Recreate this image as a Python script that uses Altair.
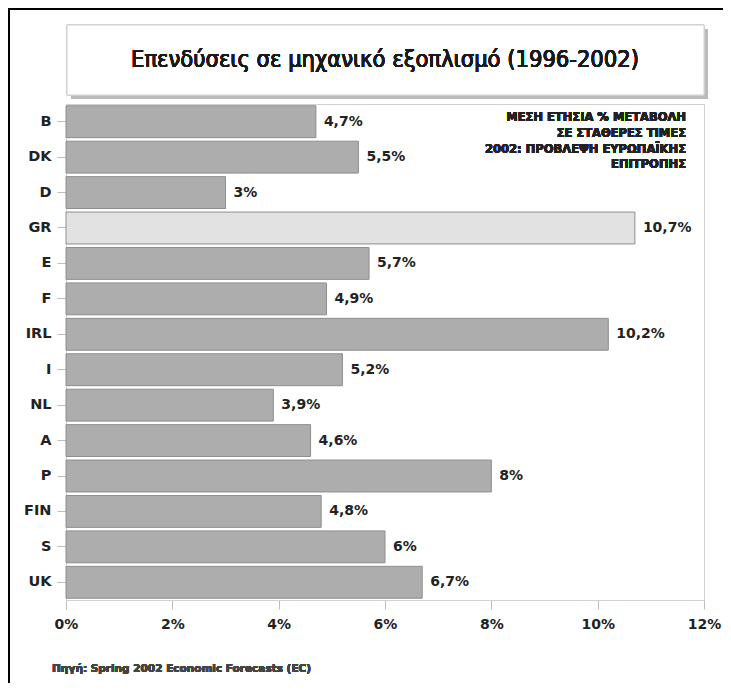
import altair as alt
import pandas as pd

countries = ["B", "DK", "D", "GR", "E", "F", "IRL", "I", "NL", "A", "P", "FIN", "S", "UK"]
values = [4.7, 5.5, 3.0, 10.7, 5.7, 4.9, 10.2, 5.2, 3.9, 4.6, 8.0, 4.8, 6.0, 6.7]
labels = ["4,7%", "5,5%", "3%", "10,7%", "5,7%", "4,9%", "10,2%", "5,2%", "3,9%", "4,6%", "8%", "4,8%", "6%", "6,7%"]
highlight = ["no", "no", "no", "yes", "no", "no", "no", "no", "no", "no", "no", "no", "no", "no"]
x_ticks = [0, 2, 4, 6, 8, 10, 12]

title_text = "Επενδύσεις σε μηχανικό εξοπλισμό (1996-2002)"
note_lines = ["ΜΕΣΗ ΕΤΗΣΙΑ % ΜΕΤΑΒΟΛΗ", "ΣΕ ΣΤΑΘΕΡΕΣ ΤΙΜΕΣ", "2002: ΠΡΟΒΛΕΨΗ ΕΥΡΩΠΑΪΚΗΣ", "ΕΠΙΤΡΟΠΗΣ"]
source_text = "Πηγή: Spring 2002 Economic Forecasts (EC)"

df = pd.DataFrame({"country": countries, "value": values, "label": labels, "hl": highlight})

W, H = 638, 496
BOLD = "DejaVu Sans"
COND = "'DejaVu Sans Condensed', 'Liberation Sans', sans-serif"

x_enc = alt.X("value:Q", scale=alt.Scale(domain=[0, 12], nice=False),
              axis=alt.Axis(values=x_ticks, labelExpr="datum.value + '%'", title=None,
                            grid=False, domainColor="#d2d2d2", tickColor="#bdbdbd", tickSize=9,
                            labelFlush=False, labelOverlap=False,
                            labelFont=BOLD, labelFontWeight="bold", labelFontSize=14,
                            labelColor="#222", labelPadding=8))
y_enc = alt.Y("country:N", sort=countries,
              scale=alt.Scale(paddingInner=0.1, paddingOuter=0.05),
              axis=alt.Axis(title=None, domain=False, tickColor="#bdbdbd", tickSize=9,
                            labelFont=BOLD, labelFontWeight="bold", labelFontSize=14.5,
                            labelColor="#222", labelPadding=6))

bars = alt.Chart(df).mark_bar(stroke="#8e8e8e", strokeWidth=1).encode(
    x=x_enc, y=y_enc,
    color=alt.Color("hl:N", scale=alt.Scale(domain=["no", "yes"], range=["#adadad", "#e2e2e2"]), legend=None),
)

texts = alt.Chart(df).mark_text(align="left", baseline="middle", dx=8, font=BOLD,
                                fontWeight="bold", fontSize=14, color="#222").encode(
    x="value:Q", y=alt.Y("country:N", sort=countries), text="label:N")

# decorative title box with shadow
shadow = alt.Chart(df).mark_rect(color="#bbbbbb").encode(
    x=alt.value(5), x2=alt.value(642), y=alt.value(-75), y2=alt.value(-5))
box = alt.Chart(df).mark_rect(color="white", stroke="#d0d0d0", strokeWidth=1).encode(
    x=alt.value(1), x2=alt.value(638), y=alt.value(-79), y2=alt.value(-9))
title = alt.Chart(df).mark_text(text=title_text, font=COND, fontSize=23.5,
                                color="#1a1a1a", align="center", baseline="middle").encode(
    x=alt.value(319), y=alt.value(-44))

note = alt.Chart(df).mark_text(text=note_lines, font=BOLD, fontWeight="bold", fontSize=11.5,
                               color="#222", align="right", baseline="top", lineHeight=15.8).encode(
    x=alt.value(620), y=alt.value(8))

source = alt.Chart(df).mark_text(text=source_text, font=BOLD, fontWeight="bold", fontSize=10.5,
                                 color="#444", align="left", baseline="middle").encode(
    x=alt.value(-14), y=alt.value(565))

border_left = alt.Chart(df).mark_rule(color="black", strokeWidth=2).encode(
    x=alt.value(-57), y=alt.value(-96), y2=alt.value(580))
border_top = alt.Chart(df).mark_rule(color="black", strokeWidth=2).encode(
    x=alt.value(-58), x2=alt.value(660), y=alt.value(-95))

chart = alt.layer(bars, texts, shadow, box, title, note, source,
                  border_left, border_top).properties(
    width=W, height=H,
    autosize=alt.AutoSizeParams(type="none"),
    padding={"left": 58, "top": 96, "right": 19, "bottom": 83},
    background="white",
).configure_view(stroke="#d0d0d0", strokeWidth=1)

chart.save("out.html", embed_options={"renderer": "svg", "actions": False})
